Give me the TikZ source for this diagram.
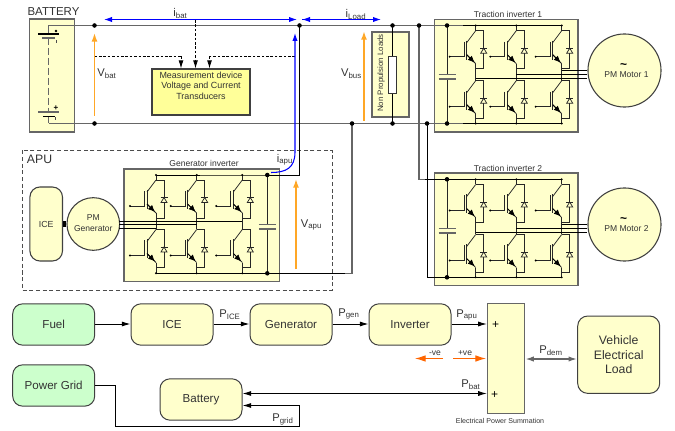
\documentclass[tikz,border=0pt]{standalone}
\usepackage{fontspec}
\setmainfont{Liberation Sans}
\usetikzlibrary{arrows.meta,calc}
\newcommand\fs[1]{\fontsize{#1}{#1}\selectfont}
\newcommand\lowtxt[1]{\textsubscript{#1}}
\definecolor{lyellow}{HTML}{FFFFCC}
\definecolor{myellow}{HTML}{FFFF99}
\definecolor{lgreen}{HTML}{CCFFCC}
\definecolor{txtc}{HTML}{333333}
\definecolor{wiregray}{HTML}{666666}
\definecolor{vorange}{HTML}{FFA726}
\definecolor{dorange}{HTML}{FF6600}
\tikzset{
  panel/.style={draw=wiregray,line width=1pt,fill=lyellow},
  blockbox/.style={draw=black!75,line width=0.75pt,fill=lyellow,rounded corners=7.5pt,minimum width=61.5pt,minimum height=31pt,inner sep=0pt,align=center,text=txtc,font=\fs{8.7pt}},
  greenbox/.style={blockbox,fill=lgreen},
  lab/.style={text=txtc,inner sep=0pt,font=\fs{8.4pt}},
  smalllab/.style={text=txtc,inner sep=0pt,font=\fs{6.4pt}},
  wirethick/.style={draw=wiregray,line width=1.05pt},
  wirethin/.style={draw=black,line width=0.7pt},
  cw/.style={draw=black!85,line width=0.55pt},
  jdot/.style={circle,fill=black,inner sep=0pt,minimum size=3.4pt},
  sdot/.style={circle,fill=black,inner sep=0pt,minimum size=1.6pt},
  bluearrow/.style={draw=blue,line width=0.8pt,{Latex[length=6pt,width=4pt]}-{Latex[length=6pt,width=4pt]}},
  bluehead/.style={draw=blue,line width=0.8pt,-{Latex[length=6pt,width=4pt]}},
  volt/.style={draw=vorange,line width=1.1pt,-{Latex[length=6.5pt,width=4.5pt]}},
  dashw/.style={draw=black,line width=0.6pt,dash pattern=on 2pt off 1.3pt},
  dashhead/.style={dashw,-{Latex[length=6pt,width=3.6pt]}},
  flow/.style={draw=black,line width=0.7pt,-{Latex[length=6.5pt,width=3.8pt]}},
  flowboth/.style={draw=black,line width=0.7pt,{Latex[length=6.5pt,width=3.8pt]}-{Latex[length=6.5pt,width=3.8pt]}},
  ohead/.style={draw=dorange,line width=0.8pt,-{Latex[length=8pt,width=5pt]}},
}
% one switch with its diode; (#1,#2) is the point where the collector leaves the leg
\newcommand\igbt[2]{%
\begin{scope}[shift={(#1,#2)}]
  \draw[cw] (0,0) -- (-9,12);
  \draw[cw] (-9,10) -- (-9,29);
  \draw[cw] (-11.5,11) -- (-11.5,26) -- (-26,26);
  \node[sdot] at (-26,26) {};
  \draw[cw] (-9,24) -- (0,33);
  \draw[black,line width=0.55pt,-{Latex[length=5.2pt,width=4.4pt]}] (-9,24) -- (-1,32);
  \draw[cw] (0,0) -- (8,0) -- (8,38) -- (0,38);
  \draw[cw,fill=lyellow] (8,17.5) -- (5,22.5) -- (11,22.5) -- cycle;
  \draw[cw] (4.5,17.5) -- (11.5,17.5);
\end{scope}}
% leg: x, top rail, first switch y, second switch y, bottom rail
\newcommand\leg[5]{%
  \draw[cw] (#1,#2) -- (#1,#3);
  \draw[cw] (#1,#3+33) -- (#1,#4);
  \draw[cw] (#1,#4+33) -- (#1,#5);
  \igbt{#1}{#3}\igbt{#1}{#4}
  \node[sdot] at (#1,#2) {};
  \node[sdot] at (#1,#5) {};
}
\newcommand\cappair[4]{% x, top, ymid, bottom
  \draw[cw] (#1,#2) -- (#1,#3-2.2);
  \draw[cw] (#1,#3+2.2) -- (#1,#4);
  \draw[wirethick] (#1-8.5,#3-2.2) -- (#1+8.5,#3-2.2);
  \draw[wirethick] (#1-8.5,#3+2.2) -- (#1+8.5,#3+2.2);
}
\begin{document}
\begin{tikzpicture}[x=0.75pt,y=-0.75pt]
\useasboundingbox (0,0) rectangle (675,431);
\fill[white] (0,0) rectangle (675,431);

%%% panels
\draw[panel] (29.5,19) rectangle (74.5,132);
\draw[panel] (434.5,19.5) rectangle (578,132);
\draw[panel] (434.5,173) rectangle (578,285.5);
\draw[panel] (124,169) rectangle (279.5,281.7);
\draw[panel] (372,32) rectangle (409,117);
\draw[draw=black!70,densely dashed,line width=0.6pt] (22,150.5) rectangle (332,290);

%%% named wiring points
\coordinate (bt) at (48.5,25.5);
\coordinate (bb) at (48.5,123.5);
\coordinate (jbt) at (94.5,25.5);
\coordinate (jbb) at (94.5,123.5);
\coordinate (jbus) at (299.5,25.5);
\coordinate (jrt) at (392.5,25.5);
\coordinate (jrb) at (392.5,123.5);
\coordinate (jt2) at (419,25.5);
\coordinate (j1t) at (447,25.5);
\coordinate (j1b) at (447,123.5);
\coordinate (jb3) at (352,123.5);
\coordinate (jb2) at (427,123.5);
\coordinate (j2t) at (447,179.3);
\coordinate (j2b) at (447,277.3);
\coordinate (jgt) at (267.3,175);
\coordinate (jgb) at (267.3,273.3);

%%% DC bus wires
\draw[wirethick] (bt) -- (j1t) -- (463,25.5);
\draw[wirethick] (bb) -- (j1b) -- (463,123.5);
\draw[wirethin] (463,25.5) -- (561.7,25.5);
\draw[wirethin] (463,123.5) -- (561.7,123.5);
\draw[wirethin] (jbus) -- (299.5,175) -- (jgt);
\draw[wirethin] (jgt) -- (243,175) -- (156,175);
\draw[wirethin] (156,273.3) -- (jgb) -- (352,273.3);
\draw[wirethick] (jb3) -- (352,273.3) -- (345,273.3);
\draw[wirethick] (jt2) -- (419,179.3) -- (425,179.3);
\draw[wirethin] (425,179.3) -- (j2t) -- (561.7,179.3);
\draw[wirethin] (jb2) -- (427,277.3) -- (j2b) -- (561.7,277.3);

%%% battery cells
\draw[wirethick] (bt) -- (48.5,34);
\draw[wirethick,dash pattern=on 5pt off 2.5pt] (48.5,38) -- (48.5,112);
\draw[wirethick] (48.5,116.5) -- (bb);
\draw[black,line width=0.8pt] (38,34) -- (59,34);
\draw[wiregray,line width=1.1pt] (42,38) -- (55,38);
\draw[wiregray,line width=0.9pt] (38,112) -- (59,112);
\draw[black,line width=0.9pt] (43,116.5) -- (55,116.5);
\node[jdot,minimum size=2pt] (batplus1) at (56,31) {};
\draw[black!70,line width=0.5pt] (56,40) -- (56,43);
\node[inner sep=0pt,font=\bfseries\fs{6pt}] (batplus2) at (56,108) {+};
\draw[black!70,line width=0.5pt] (55.5,117) -- (55.5,120);

%%% labels upper part
\node[lab,font=\fs{8.6pt}] (tbat) at (53.5,12) {BATTERY};
\node[lab] (tibat) at (180.5,13) {i\lowtxt{bat}};
\node[lab] (tiload) at (356,14.5) {i\lowtxt{Load}};
\node[lab] (tvbat) at (107,74) {V\lowtxt{bat}};
\node[lab] (tvbus) at (351.5,73.5) {V\lowtxt{bus}};
\node[smalllab,rotate=90,font=\fs{5.9pt}] (tnpl) at (381,73) {Non Propulsion Loads};
\node[smalllab] (tti1) at (508,14) {Traction inverter 1};
\node[smalllab] (tti2) at (508,168) {Traction inverter 2};
\node[smalllab] (tgi) at (204,163) {Generator inverter};
\node[lab,font=\fs{9.2pt}] (tapu) at (39.5,159) {APU};
\node[lab] (tiapu) at (285,160) {i\lowtxt{apu}};
\node[lab] (tvapu) at (311.5,225) {V\lowtxt{apu}};

%%% measurement
\node[draw=black!75,line width=0.9pt,fill=myellow,minimum width=73.5pt,minimum height=34.5pt,inner sep=0pt] (meas) at (201,92) {};
\node[smalllab,align=center,font=\fs{6.7pt}] (meastxt) at (201,85.5) {Measurement device\\[1.1pt]Voltage and Current\\[1.1pt]Transducers};
\coordinate (mL) at (181,68.5);
\coordinate (mC) at (195.5,68.5);
\coordinate (mR) at (209.5,68.5);
\draw[dashw] (94.5,56.5) -- (181,56.5);
\draw[dashhead] (181,56.5) -- (mL);
\draw[dashhead] (195.5,20) -- (mC);
\draw[dashw] (295,56.5) -- (209.5,56.5);
\draw[dashhead] (209.5,56.5) -- (mR);

%%% currents and voltages
\draw[bluearrow] (104,19.5) -- (297,19.5);
\draw[bluehead] (302,19.5) -- (381,19.5);
\draw[draw=blue,line width=0.8pt,{Latex[length=6pt,width=4pt]}-] (302,19.5) -- (312,19.5);
\draw[bluehead] (271,172.5) .. controls (286,172.5) and (295,168) .. (295,152) -- (295,33);
\draw[volt] (94.5,116) -- (94.5,33);
\draw[volt,line width=1.3pt] (364,121) -- (364,31);
\draw[volt] (296,269) -- (296,179);

%%% non propulsion load
\draw[wirethin] (jrt) -- (jrb);
\draw[draw=black!80,fill=white,line width=0.7pt] (388.3,56.5) rectangle (396.5,93);

%%% traction inverter 1
\cappair{447}{25.5}{77}{123.5}
\leg{475.7}{25.5}{30.7}{80.7}{123.5}
\leg{516.3}{25.5}{30.7}{80.7}{123.5}
\leg{561.7}{25.5}{30.7}{80.7}{123.5}

%%% traction inverter 2
\cappair{447}{179.3}{230.8}{277.3}
\leg{475.7}{179.3}{184.5}{234.5}{277.3}
\leg{516.3}{179.3}{184.5}{234.5}{277.3}
\leg{561.7}{179.3}{184.5}{234.5}{277.3}

%%% generator inverter
\cappair{267.3}{175}{226.8}{273.3}
\leg{156}{175}{180}{229.5}{273.3}
\leg{196.7}{175}{180}{229.5}{273.3}
\leg{242.3}{175}{180}{229.5}{273.3}

%%% machines
\node[draw=black!75,line width=0.8pt,fill=lyellow,circle,minimum size=54.8pt,inner sep=0pt] (m1) at (624.5,70.5) {};
\node[draw=black!75,line width=0.8pt,fill=lyellow,circle,minimum size=54.8pt,inner sep=0pt] (m2) at (624.5,224.5) {};
\node[draw=black!75,line width=0.8pt,fill=lyellow,circle,minimum size=39.5pt,inner sep=0pt] (pmg) at (93.3,224) {};
\node[smalllab] (tm1) at (626.5,75) {PM Motor 1};
\node[smalllab] (tm2) at (626.5,229) {PM Motor 2};
\node[inner sep=0pt,font=\bfseries\fs{9pt}] (tl1) at (623.5,66) {\textasciitilde};
\node[inner sep=0pt,font=\bfseries\fs{9pt}] (tl2) at (623.5,220) {\textasciitilde};
\node[smalllab,align=center] (tpmg) at (93.3,223) {PM\\[1.5pt]Generator};
\node[draw=black!75,line width=0.8pt,fill=lyellow,rounded corners=7.5pt,minimum width=24.4pt,minimum height=55.5pt,inner sep=0pt,text=txtc,font=\fs{6.6pt}] (iceu) at (46.2,224) {ICE};
\draw[black,line width=4.5pt] (iceu.east) -- (pmg.west);

%%% motor and generator phase lines
\foreach \y/\x in {70.8/561.7,74.8/516.3,78.3/475.7}{\draw[wirethin] (\x,\y) -- (m1.west |- 0,\y);}
\foreach \y/\x in {224.8/561.7,228.6/516.3,232.1/475.7}{\draw[wirethin] (\x,\y) -- (m2.west |- 0,\y);}
\foreach \y/\x in {221/242.3,224.3/196.7,228.3/156}{\draw[wirethin] (119.4,\y) -- (\x,\y);}

%%% junction dots
\foreach \n in {jbt,jbb,jbus,jrt,jrb,jt2,j1t,j1b,jb3,jb2,j2t,j2b,jgt,jgb}{\node[jdot] at (\n) {};}

%%% lower power flow diagram
\node[greenbox] (fuel) at (53.7,324.5) {Fuel};
\node[blockbox] (ice) at (172,324.5) {ICE};
\node[blockbox] (gen) at (291,324.5) {Generator};
\node[blockbox] (inv) at (410,324.5) {Inverter};
\node[greenbox] (grid) at (53.7,385.5) {Power Grid};
\node[blockbox] (batt) at (201,399.5) {Battery};
\node[draw=wiregray,line width=1pt,fill=lyellow,minimum width=27.7pt,minimum height=82.5pt,inner sep=0pt] (sum) at (506,358.7) {};
\node[blockbox,minimum height=58pt,font=\fs{9.2pt}] (veh) at (618.7,354.7) {Vehicle\\[1.5pt]Electrical\\[1.5pt]Load};

\draw[flow] (fuel.east |- 0,324) -- (ice.west |- 0,324);
\draw[flow] (ice.east |- 0,324) -- (gen.west |- 0,324);
\draw[flow] (gen.east |- 0,324) -- (inv.west |- 0,324);
\draw[flow] (inv.east |- 0,324) -- (sum.west |- 0,324);
\draw[flowboth] (batt.east |- 0,393.5) -- (sum.west |- 0,393.5);
\draw[flow] (grid.east) -- ++(20.5,0) |- (299,426) |- (batt.east |- 0,405.5);
\draw[draw=wiregray,line width=1.2pt,{Latex[length=6.5pt,width=4pt]}-{Latex[length=6.5pt,width=4pt]}] (sum.east |- 0,359) -- (veh.west |- 0,359);
\coordinate (mneg) at (443,358.5);
\coordinate (mpos) at (453,358.5);
\draw[ohead] (mneg) -- (415,358.5);
\draw[ohead] (mpos) -- (486,358.5);

\node[lab] (tpice) at (230,315) {P\lowtxt{ICE}};
\node[lab] (tpgen) at (349,314) {P\lowtxt{gen}};
\node[lab] (tpapu) at (467,315) {P\lowtxt{apu}};
\node[lab] (tpbat) at (471,385) {P\lowtxt{bat}};
\node[lab] (tpdem) at (551,351) {P\lowtxt{dem}};
\node[lab] (tpgrid) at (283,419) {P\lowtxt{grid}};
\node[smalllab] (tneg) at (435,353) {-ve};
\node[smalllab] (tpos) at (465,353) {+ve};
\node[inner sep=0pt,text=black,font=\fs{9pt}] (tp1) at (495.5,325) {+};
\node[inner sep=0pt,text=black,font=\fs{9pt}] (tp2) at (494.5,395) {+};
\node[text=txtc,inner sep=0pt,font=\fs{5.3pt}] (tsum) at (500,420.5) {Electrical Power Summation};
\end{tikzpicture}
\end{document}
